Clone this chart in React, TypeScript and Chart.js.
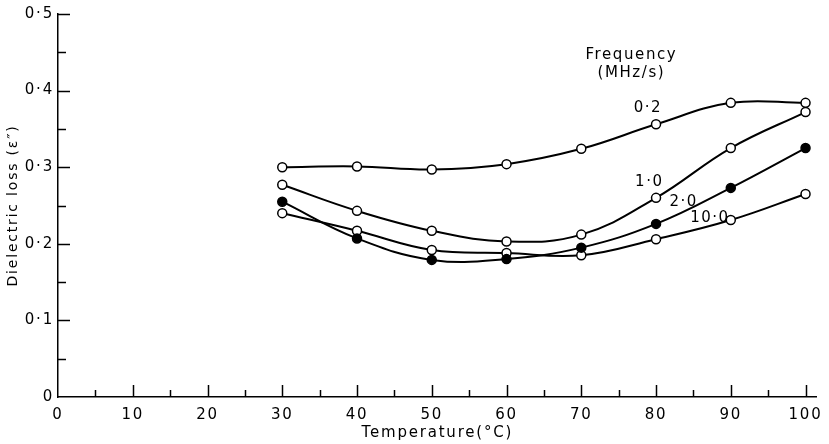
import React, { useEffect, useRef } from "react";
import { Chart, registerables } from "chart.js";

Chart.register(...registerables);

const temperatures = [30, 40, 50, 60, 70, 80, 90, 100];
const freq02 = [0.300, 0.301, 0.297, 0.304, 0.324, 0.356, 0.384, 0.384];
const freq10 = [0.277, 0.243, 0.217, 0.203, 0.212, 0.260, 0.325, 0.372];
const freq20 = [0.255, 0.207, 0.179, 0.180, 0.195, 0.226, 0.273, 0.325];
const freq100 = [0.240, 0.217, 0.192, 0.188, 0.185, 0.206, 0.231, 0.265];

const xTickValues = [0, 10, 20, 30, 40, 50, 60, 70, 80, 90, 100];

const seriesLabels = ["0·2", "1·0", "2·0", "10·0"];
const seriesLabelX = [78.9, 79.1, 83.7, 87.2];
const seriesLabelY = [0.377, 0.281, 0.255, 0.234];
const legendTitle = ["Frequency", "(MHz/s)"];
const legendTitleX = 76.7;
const legendTitleY = [0.446, 0.423];

const xTitle = "Temperature(°C)";
const yTitle = "Dielectric loss (ε″)";

const FONT = "'DejaVu Sans', sans-serif";

function fmtY(v: number) {
  if (Math.abs(v) < 1e-9) return "0";
  return v.toFixed(1).replace(".", "·");
}

const annotPlugin = {
  id: "annot",
  beforeDraw(chart: any) {
    chart.ctx.letterSpacing = "1.8px";
  },
  afterDraw(chart: any) {
    const ctx = chart.ctx;
    const xs = chart.scales.x;
    const ys = chart.scales.y;
    const area = chart.chartArea;
    ctx.save();
    ctx.strokeStyle = "#000";
    ctx.lineWidth = 1.5;
    // inward ticks
    for (let v = 5; v <= 100; v += 5) {
      const px = Math.round(xs.getPixelForValue(v)) + 0.5;
      const len = v % 10 === 0 ? 12 : 7;
      ctx.beginPath();
      ctx.moveTo(px, area.bottom);
      ctx.lineTo(px, area.bottom - len);
      ctx.stroke();
    }
    for (let i = 1; i <= 10; i++) {
      const v = i * 0.05;
      const py = Math.round(ys.getPixelForValue(v)) + 0.5;
      const len = i % 2 === 0 ? 12 : 8;
      ctx.beginPath();
      ctx.moveTo(area.left, py);
      ctx.lineTo(area.left + len, py);
      ctx.stroke();
    }
    // text labels
    ctx.fillStyle = "#000";
    ctx.textAlign = "center";
    ctx.textBaseline = "middle";
    ctx.letterSpacing = "1.6px";
    ctx.font = `15px ${FONT}`;
    legendTitle.forEach((t, i) => {
      ctx.fillText(t, xs.getPixelForValue(legendTitleX), ys.getPixelForValue(legendTitleY[i]));
    });
    ctx.letterSpacing = "1.5px";
    ctx.font = `15px ${FONT}`;
    seriesLabels.forEach((t, i) => {
      ctx.fillText(t, xs.getPixelForValue(seriesLabelX[i]), ys.getPixelForValue(seriesLabelY[i]));
    });
    ctx.restore();
  },
};

export default function App() {
  const ref = useRef<HTMLCanvasElement | null>(null);
  useEffect(() => {
    document.body.style.margin = "0";
    const mk = (label: string, data: number[], filled: boolean) => ({
      label,
      data: temperatures.map((t, i) => ({ x: t, y: data[i] })),
      borderColor: "#000",
      borderWidth: 2,
      tension: 0.4,
      pointRadius: 4.5,
      pointBorderWidth: 1.5,
      pointBorderColor: "#000",
      pointBackgroundColor: filled ? "#000" : "#fff",
      fill: false,
    });
    const chart = new Chart(ref.current as HTMLCanvasElement, {
      type: "line",
      data: {
        datasets: [
          mk("0·2", freq02, false),
          mk("1·0", freq10, false),
          mk("2·0", freq20, true),
          mk("10·0", freq100, false),
        ],
      },
      options: {
        animation: false,
        responsive: false,
        layout: { padding: { top: 14, right: 10, left: 0, bottom: 0 } },
        plugins: { legend: { display: false }, tooltip: { enabled: false } },
        scales: {
          x: {
            type: "linear",
            min: 0,
            max: 101.5,
            grid: { display: false, drawTicks: false },
            border: { display: true, color: "#000", width: 1.5 },
            afterBuildTicks: (s: any) => {
              s.ticks = xTickValues.map((v) => ({ value: v }));
            },
            afterFit: (s: any) => {
              s.height = 47;
            },
            ticks: {
              stepSize: 10,
              color: "#000",
              padding: 9,
              maxRotation: 0,
              autoSkip: false,
              font: { family: FONT, size: 15 },
            },
            title: {
              display: true,
              text: xTitle,
              color: "#000",
              font: { family: FONT, size: 15 },
              padding: { top: 0, bottom: 2 },
            },
          },
          y: {
            type: "linear",
            min: 0,
            max: 0.5,
            grid: { display: false, drawTicks: false },
            border: { display: true, color: "#000", width: 1.5 },
            afterFit: (s: any) => {
              s.width = 58;
            },
            ticks: {
              stepSize: 0.1,
              color: "#000",
              padding: 4,
              font: { family: FONT, size: 15 },
              callback: (v: any) => fmtY(Number(v)),
            },
            title: {
              display: true,
              text: yTitle,
              color: "#000",
              font: { family: FONT, size: 14 },
              padding: { top: 5, bottom: 0 },
            },
          },
        },
      },
      plugins: [annotPlugin],
    } as any);
    return () => chart.destroy();
  }, []);
  return (
    <div style={{ position: "absolute", left: 0, top: 0, width: 829, height: 444 }}>
      <canvas ref={ref} width={829} height={444} style={{ width: 829, height: 444 }} />
    </div>
  );
}
